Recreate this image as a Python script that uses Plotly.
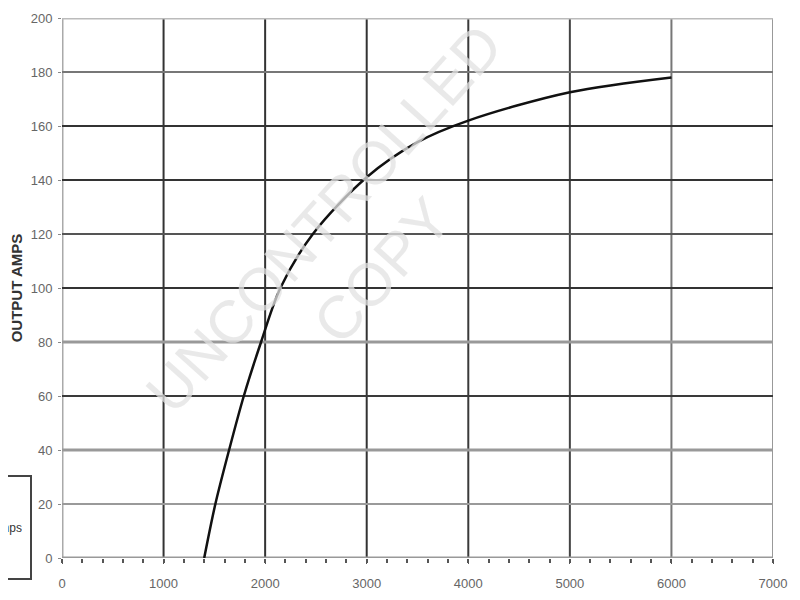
import plotly.graph_objects as go

# Data (alternator output curve)
rpm = [1400, 1510, 1645, 1790, 1960, 2150, 2470, 3000, 3500, 4000, 5000, 6000]
amps = [0, 20, 40, 60, 80, 100, 120, 141, 154, 162, 172.5, 178]

x_ticks = [0, 1000, 2000, 3000, 4000, 5000, 6000, 7000]
y_ticks = [0, 20, 40, 60, 80, 100, 120, 140, 160, 180, 200]

series_name = "Output Amps"
y_title = "OUTPUT AMPS"
watermark = "UNCONTROLLED<br>COPY"

# grid styling per tick (colour, width)
x_grid_style = {0: ("#aaaaaa", 3), 1000: ("#333333", 2), 2000: ("#333333", 2),
                3000: ("#333333", 2), 4000: ("#3a3a3a", 2), 5000: ("#444444", 2),
                6000: ("#777777", 2), 7000: ("#999999", 2)}
y_grid_style = {0: ("#999999", 3), 20: ("#9a9a9a", 2), 40: ("#999999", 3),
                60: ("#3a3a3a", 2), 80: ("#999999", 3), 100: ("#333333", 2),
                120: ("#555555", 2), 140: ("#333333", 2), 160: ("#333333", 2),
                180: ("#777777", 2), 200: ("#bbbbbb", 3)}

tick_font = dict(family="Liberation Sans Narrow, Liberation Sans, Arial, sans-serif",
                 size=13, color="#666666")

fig = go.Figure()
fig.add_trace(go.Scatter(
    x=rpm, y=amps, mode="lines", name=series_name,
    line=dict(color="#111111", width=2.5, shape="spline", smoothing=0.9),
    showlegend=False,
))

shapes = []
for v in x_ticks:
    c, w = x_grid_style[v]
    shapes.append(dict(type="line", xref="x", yref="y", x0=v, x1=v,
                       y0=y_ticks[0], y1=y_ticks[-1], layer="between",
                       line=dict(color=c, width=w)))
for v in y_ticks:
    c, w = y_grid_style[v]
    shapes.append(dict(type="line", xref="x", yref="y", y0=v, y1=v,
                       x0=x_ticks[0], x1=x_ticks[-1], layer="between",
                       line=dict(color=c, width=w)))

# the page body adds an 8px offset, so the figure is sized/margined to compensate
fig.update_layout(
    width=792, height=592,
    margin=dict(l=54, r=27, t=10, b=42, autoexpand=False),
    paper_bgcolor="white", plot_bgcolor="white",
    font=dict(family="Liberation Sans, Arial, sans-serif", size=10, color="#555555"),
    shapes=shapes,
    xaxis=dict(range=[x_ticks[0], x_ticks[-1]], tickvals=x_ticks,
               ticktext=[str(v) for v in x_ticks], automargin=False,
               showgrid=False, zeroline=False, showline=False,
               ticks="outside", ticklen=5, tickcolor="#555555", tickwidth=1,
               ticklabelstandoff=8,
               minor=dict(dtick=200, ticks="outside", ticklen=4,
                          tickcolor="#555555", tickwidth=1.5, showgrid=False),
               tickfont=tick_font),
    yaxis=dict(range=[y_ticks[0], y_ticks[-1]], tickvals=y_ticks,
               ticktext=[str(v) for v in y_ticks], automargin=False,
               showgrid=False, zeroline=False, showline=False,
               ticks="outside", ticklen=3, tickcolor="#888888",
               ticklabelstandoff=3,
               tickfont=tick_font,
               title=dict(text=f"<b>{y_title}</b>", standoff=8,
                          font=dict(size=15, color="#333333"))),
    annotations=[
        dict(text=watermark, xref="paper", yref="paper", x=0.41, y=0.58,
             showarrow=False, textangle=-48,
             font=dict(size=60, color="rgba(225,225,225,0.75)",
                       family="Liberation Sans, Arial, sans-serif")),
        dict(text=series_name, xref="paper", yref="paper",
             x=-0.042, y=0.154, xanchor="right", yanchor="top",
             showarrow=False, width=110, height=85, align="right",
             valign="middle", borderpad=8, bordercolor="#444444",
             borderwidth=2, bgcolor="white",
             font=dict(size=12, color="#333333")),
    ],
)

fig.write_html("out.html")
